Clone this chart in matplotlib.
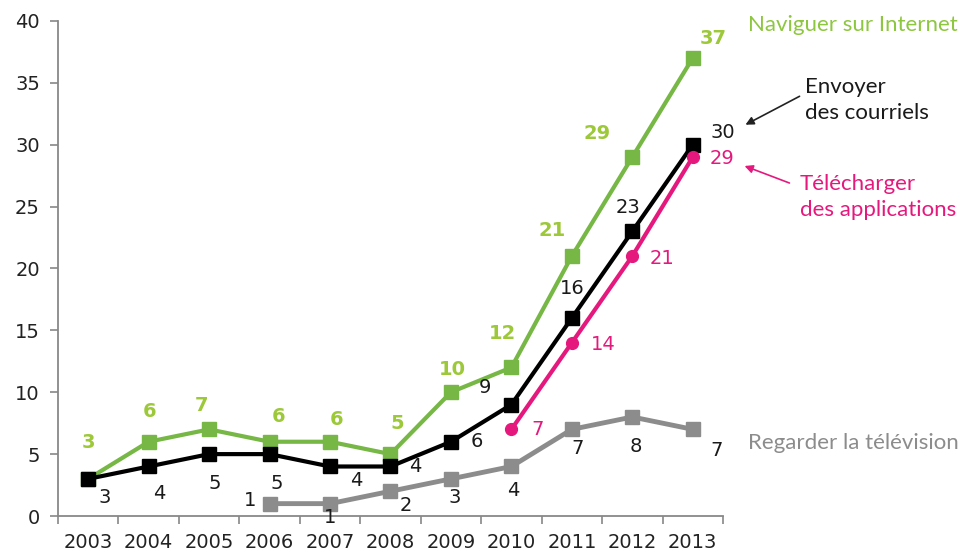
import matplotlib
matplotlib.use("Agg")
import matplotlib.pyplot as plt

years = ["2003", "2004", "2005", "2006", "2007", "2008", "2009", "2010", "2011", "2012", "2013"]
internet = [3, 6, 7, 6, 6, 5, 10, 12, 21, 29, 37]
courriels = [3, 4, 5, 5, 4, 4, 6, 9, 16, 23, 30]
applis_years = ["2010", "2011", "2012", "2013"]
applis = [7, 14, 21, 29]
tele_years = ["2006", "2007", "2008", "2009", "2010", "2011", "2012", "2013"]
tele = [1, 1, 2, 3, 4, 7, 8, 7]
yticks = [0, 5, 10, 15, 20, 25, 30, 35, 40]

# label offsets in pixels (dx, dy up)
off_internet = [(0, 36), (1, 30), (-8, 24), (9, 25), (7, 22), (7, 31), (1, 23), (-9, 34), (-20, 26), (-35, 24), (20, 20)]
off_courriels = [(16, -19), (11, -27), (6, -29), (7, -29), (26, -14), (25, 0), (26, 0), (-26, 17), (0, 29), (-4, 24), (30, 12)]
off_applis = [(26, 0), (31, -2), (30, -2), (29, -1)]
off_tele = [(-20, 3), (0, -14), (15, -14), (4, -19), (2, -24), (6, -19), (3, -30), (24, -21)]

GREEN = "#76b745"
GREEN_TXT = "#9cc83a"
PINK = "#e5197d"
GRAY = "#8c8c8c"
BLACK = "#000000"

fig = plt.figure(figsize=(9.68, 5.52), dpi=100)
ax = fig.add_axes([0.0599, 0.0652, 0.687, 0.897])

idx = {y: i for i, y in enumerate(years)}
xi = list(range(len(years)))
xa = [idx[y] for y in applis_years]
xt = [idx[y] for y in tele_years]

ax.plot(xt, tele, color=GRAY, lw=3.5, marker="s", ms=9.5, zorder=2)
ax.plot(xi, internet, color=GREEN, lw=3, marker="s", ms=9.5, zorder=3)
ax.plot(xi, courriels, color=BLACK, lw=3, marker="s", ms=9.5, zorder=4)
ax.plot(xa, applis, color=PINK, lw=3, marker="o", ms=8.5, zorder=5)

num_font = dict(family="DejaVu Sans", fontsize=14)
for x, v, (dx, dy) in zip(xi, internet, off_internet):
    ax.annotate(str(v), (x, v), xytext=(dx, dy), textcoords="offset pixels",
                ha="center", va="center", color=GREEN_TXT, fontweight="bold", **num_font)
for x, v, (dx, dy) in zip(xi, courriels, off_courriels):
    ax.annotate(str(v), (x, v), xytext=(dx, dy), textcoords="offset pixels",
                ha="center", va="center", color="#1a1a1a", **num_font)
for x, v, (dx, dy) in zip(xa, applis, off_applis):
    ax.annotate(str(v), (x, v), xytext=(dx, dy), textcoords="offset pixels",
                ha="center", va="center", color=PINK, **num_font)
for x, v, (dx, dy) in zip(xt, tele, off_tele):
    ax.annotate(str(v), (x, v), xytext=(dx, dy), textcoords="offset pixels",
                ha="center", va="center", color="#1a1a1a", **num_font)

ax.set_xlim(-0.5, len(years) - 0.5)
ax.set_ylim(0, 40)
ax.set_yticks(yticks)
ax.set_yticklabels([str(t) for t in yticks], **num_font, color="#222222")
ax.set_xticks([i - 0.5 for i in range(len(years) + 1)])
ax.set_xticklabels([])
ax.set_xticks(xi, minor=True)
ax.set_xticklabels(years, minor=True, **num_font, color="#222222")
ax.tick_params(axis="x", which="minor", length=0, pad=12)
ax.tick_params(axis="x", which="major", length=6, color="#888888", width=1.2)
ax.tick_params(axis="y", length=6, color="#888888", width=1.2, pad=7)
for s in ["top", "right"]:
    ax.spines[s].set_visible(False)
for s in ["left", "bottom"]:
    ax.spines[s].set_color("#888888")
    ax.spines[s].set_linewidth(1.3)

lab_font = dict(family="Lato", fontsize=16)
fig.text(748 / 968, 1 - 25 / 552, "Naviguer sur Internet", color="#8dc63f", ha="left", va="center", **lab_font)
fig.text(805 / 968, 1 - 100 / 552, "Envoyer\ndes courriels", color="#1a1a1a", ha="left", va="center",
         linespacing=1.35, **lab_font)
fig.text(800 / 968, 1 - 197 / 552, "Télécharger\ndes applications", color=PINK, ha="left", va="center",
         linespacing=1.35, **lab_font)
fig.text(748 / 968, 1 - 443 / 552, "Regarder la télévision", color=GRAY, ha="left", va="center", **lab_font)

# arrows
ax.annotate("", xy=(743 / 968, 1 - 126 / 552), xytext=(802 / 968, 1 - 95 / 552),
            xycoords="figure fraction", textcoords="figure fraction",
            arrowprops=dict(arrowstyle="-|>", color="#222222", lw=1.2, mutation_scale=12),
            annotation_clip=False)
ax.annotate("", xy=(742 / 968, 1 - 165 / 552), xytext=(792 / 968, 1 - 184 / 552),
            xycoords="figure fraction", textcoords="figure fraction",
            arrowprops=dict(arrowstyle="-|>", color=PINK, lw=1.2, mutation_scale=12),
            annotation_clip=False)

fig.savefig("out.png", dpi=100, facecolor="white")
